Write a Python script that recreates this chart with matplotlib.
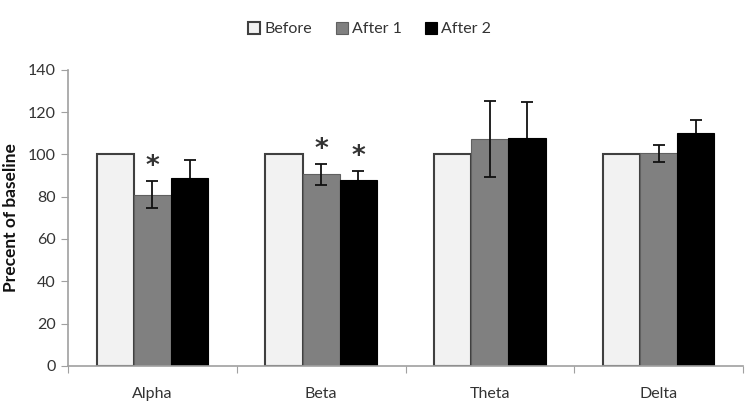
import matplotlib
matplotlib.use("Agg")
import matplotlib.pyplot as plt
import numpy as np
from matplotlib.ticker import FixedLocator, NullFormatter

plt.rcParams["font.family"] = ["Lato", "DejaVu Sans"]

bands = ["Alpha", "Beta", "Theta", "Delta"]
series = ["Before", "After 1", "After 2"]
before = [100, 100, 100, 100]
after1 = [81, 90.5, 107.5, 100.5]
after2 = [89, 88, 108, 110]
err1 = [6.5, 5, 18, 4]
err2 = [8.5, 4, 17, 6.5]
# significance markers: (band index, series index)
stars = [(0, 1), (1, 1), (1, 2)]

fig = plt.figure(figsize=(7.5, 4.11), dpi=100)
ax = fig.add_axes([0.0907, 0.110, 0.900, 0.720])

x = np.arange(len(bands))
w = 0.22
axis_grey = "#a0a0a0"

ax.bar(x - w, before, w, color="#f2f2f2", edgecolor="#404040", linewidth=1.5,
       label=series[0], zorder=2)
ax.bar(x, after1, w, color="#808080", edgecolor="#606060", linewidth=0.8,
       label=series[1], zorder=2)
ax.bar(x + w, after2, w, color="#000000", edgecolor="#000000", linewidth=0.8,
       label=series[2], zorder=2)
ax.errorbar(x, after1, yerr=err1, fmt="none", ecolor="#111111", elinewidth=1.3,
            capsize=4, capthick=1.3, zorder=3)
# drawn behind the black bars so only the upper whisker shows
ax.errorbar(x + w, after2, yerr=err2, fmt="none", ecolor="#111111",
            elinewidth=1.3, capsize=4, capthick=1.3, zorder=1.5)

vals = [before, after1, after2]
errs = [None, err1, err2]
for b, s in stars:
    top = vals[s][b] + errs[s][b]
    ax.text(x[b] + (s - 1) * w, top + 0.5, "*", ha="center", va="bottom",
            fontsize=19, fontweight="bold", color="#333333",
            fontfamily="DejaVu Sans")

ax.set_xlim(-0.5, len(bands) - 0.5)
ax.set_ylim(0, 140)
ax.set_yticks(np.arange(0, 141, 20))
ax.xaxis.set_major_locator(FixedLocator(np.arange(-0.5, len(bands), 1.0)))
ax.xaxis.set_major_formatter(NullFormatter())
ax.xaxis.set_minor_locator(FixedLocator(x))
ax.set_xticklabels(bands, minor=True)
ax.tick_params(axis="x", which="minor", length=0, pad=15, labelsize=11.5,
               labelcolor="#333333")
ax.tick_params(axis="x", which="major", length=5, color=axis_grey, direction="out")
ax.tick_params(axis="y", length=5, color=axis_grey, labelsize=11.5,
               labelcolor="#333333", pad=4)

for sp in ["top", "right"]:
    ax.spines[sp].set_visible(False)
for sp in ["left", "bottom"]:
    ax.spines[sp].set_color(axis_grey)
    ax.spines[sp].set_linewidth(1.2)

ax.set_ylabel("Precent of baseline", fontsize=12.5, fontweight="bold",
              color="#111111", labelpad=6)

leg = ax.legend(loc="lower center", bbox_to_anchor=(0.447, 1.065), ncol=3,
                frameon=False, fontsize=11.5, handlelength=0.75, handleheight=0.75,
                handletextpad=0.25, columnspacing=1.5)
for t in leg.get_texts():
    t.set_color("#333333")

fig.savefig("out.png", dpi=100)
